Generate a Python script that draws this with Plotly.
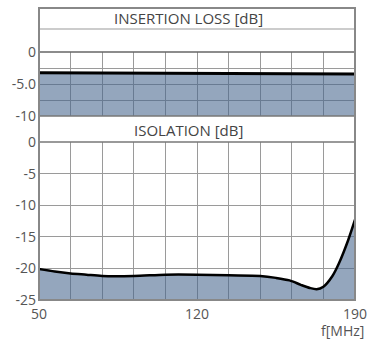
import plotly.graph_objects as go

# ---- data ----
freq_ins = [50, 85, 120, 155, 190]
insertion_loss = [-3.25, -3.3, -3.35, -3.4, -3.45]

freq_iso = [50, 57, 64, 71, 78, 92, 106, 120, 134, 148, 155, 161, 166, 170, 173, 176, 180, 183, 187, 190]
isolation = [-20.1, -20.5, -20.8, -21.0, -21.2, -21.2, -21.0, -21.0, -21.1, -21.2, -21.5, -21.9,
             -22.6, -23.1, -23.3, -22.9, -21.2, -19.1, -15.5, -12.3]

x_ticks = [50, 64, 78, 92, 106, 120, 134, 148, 162, 176, 190]
x_ticktext = ["50", "", "", "", "", "120", "", "", "", "", "190"]
ins_ticks = [0, -2.5, -5, -7.5, -10]
ins_ticktext = ["0", "", "-5.0", "", "-10"]
iso_ticks = [0, -5, -10, -15, -20, -25]
iso_ticktext = ["0", "-5", "-10", "-15", "-20", "-25"]

FILL = "rgba(70,102,142,0.58)"
GRID = "#9a9a9a"
TXT = "#555555"
FONT = "Open Sans"

fig = go.Figure()

# insertion loss
fig.add_trace(go.Scatter(x=[freq_ins[0], freq_ins[-1]], y=[-10, -10], mode="lines",
                         line=dict(width=0), hoverinfo="skip", showlegend=False,
                         xaxis="x2", yaxis="y2"))
fig.add_trace(go.Scatter(x=freq_ins, y=insertion_loss, mode="lines", fill="tonexty",
                         fillcolor=FILL, line=dict(color="black", width=3),
                         showlegend=False, xaxis="x2", yaxis="y2"))

# isolation
fig.add_trace(go.Scatter(x=[freq_iso[0], freq_iso[-1]], y=[-25, -25], mode="lines",
                         line=dict(width=0), hoverinfo="skip", showlegend=False,
                         xaxis="x", yaxis="y"))
fig.add_trace(go.Scatter(x=freq_iso, y=isolation, mode="lines", fill="tonexty",
                         fillcolor=FILL, line=dict(color="black", width=2.5, shape="spline", smoothing=0.8),
                         showlegend=False, xaxis="x", yaxis="y"))

H_TOP = 8
H_BOT = 47
PH = 347 - H_TOP - H_BOT


def py(p):
    return (300 - p) / PH


axis_common = dict(showgrid=True, gridcolor=GRID, gridwidth=1, zeroline=False, automargin=False,
                   showline=False, ticks="", tickfont=dict(family=FONT, size=14, color=TXT))

fig.update_layout(
    width=368, height=347,
    margin=dict(l=39, r=13, t=H_TOP, b=H_BOT, autoexpand=False),
    paper_bgcolor="white", plot_bgcolor="white",
    font=dict(family=FONT, color=TXT),
    xaxis=dict(range=[50, 190], tickmode="array", tickvals=x_ticks, ticktext=x_ticktext,
               domain=[0, 1], anchor="y", ticklabelstandoff=4, **axis_common),
    yaxis=dict(range=[-25, 0], tickmode="array", tickvals=iso_ticks, ticktext=iso_ticktext,
               domain=[0, py(142)], anchor="x", ticklabelstandoff=2, **axis_common),
    xaxis2=dict(range=[50, 190], tickmode="array", tickvals=x_ticks, showticklabels=False,
                domain=[0, 1], anchor="y2", **axis_common),
    yaxis2=dict(range=[-10, 0], tickmode="array", tickvals=ins_ticks, ticktext=ins_ticktext,
                domain=[py(116), py(52)], anchor="x2", ticklabelstandoff=2, **axis_common),
    shapes=[
        dict(type="line", xref="paper", yref="paper", x0=0, x1=1, y0=py(29), y1=py(29),
             line=dict(color=GRID, width=1.2)),
        dict(type="line", xref="paper", yref="paper", x0=0, x1=1, y0=py(52), y1=py(52),
             line=dict(color="#666666", width=1.5)),
        dict(type="line", xref="paper", yref="paper", x0=0, x1=1, y0=py(116), y1=py(116),
             line=dict(color="#777777", width=1.5)),
        dict(type="line", xref="paper", yref="paper", x0=0, x1=1, y0=py(142), y1=py(142),
             line=dict(color="#777777", width=1.5)),
        dict(type="rect", xref="paper", yref="paper", x0=0, x1=1, y0=0, y1=1,
             line=dict(color="#888888", width=2)),
    ],
    annotations=[
        dict(text="INSERTION LOSS [dB]", xref="paper", yref="paper", x=(188.5 - 39) / 316,
             y=py(18.5), showarrow=False, font=dict(family=FONT, size=15, color="#444444"),
             xanchor="center", yanchor="middle"),
        dict(text="ISOLATION [dB]", xref="paper", yref="paper", x=(188.5 - 39) / 316,
             y=py(130), showarrow=False, font=dict(family=FONT, size=15, color="#444444"),
             xanchor="center", yanchor="middle"),
        dict(text="f[MHz]", xref="paper", yref="paper", x=(366 - 39) / 316,
             y=py(330), showarrow=False, font=dict(family=FONT, size=14, color=TXT),
             xanchor="right", yanchor="middle"),
    ],
)

fig.write_html("out.html", config={"displayModeBar": False},
               post_script="document.body.style.margin='0px';document.body.style.overflow='hidden';")
